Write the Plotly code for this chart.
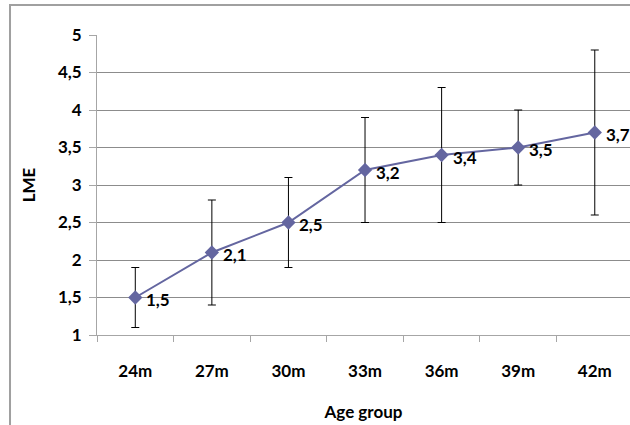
import plotly.graph_objects as go

categories = ["24m", "27m", "30m", "33m", "36m", "39m", "42m"]
values = [1.5, 2.1, 2.5, 3.2, 3.4, 3.5, 3.7]
errors = [0.4, 0.7, 0.6, 0.7, 0.9, 0.5, 1.1]
labels = ["1,5", "2,1", "2,5", "3,2", "3,4", "3,5", "3,7"]
ytickvals = [1, 1.5, 2, 2.5, 3, 3.5, 4, 4.5, 5]
yticktext = ["1", "1,5", "2", "2,5", "3", "3,5", "4", "4,5", "5"]

FONT = "Lato"
FS = 17
line_color = "#6466A0"
bold = dict(family=FONT, size=FS, color="black", weight=700)

fig = go.Figure()
fig.add_trace(go.Scatter(
    x=categories, y=values,
    mode="lines+markers",
    line=dict(color=line_color, width=2),
    marker=dict(symbol="diamond", size=11, color=line_color),
    error_y=dict(type="data", array=errors, visible=True, color="black",
                 thickness=1, width=4),
    cliponaxis=False,
    showlegend=False,
))

annotations = [
    dict(x=c, y=v, xref="x", yref="y", text=t, showarrow=False,
         xanchor="left", yanchor="middle", xshift=9, yshift=-2, font=bold)
    for c, v, t in zip(categories, values, labels)
]

fig.update_layout(
    width=630, height=425,
    margin=dict(l=97, r=0, t=35, b=90),
    paper_bgcolor="white", plot_bgcolor="white",
    font=dict(family=FONT, color="black"),
    xaxis=dict(
        type="category", range=[-0.5, 6.46],
        showgrid=False, showline=True, linecolor="#A6A6A6", linewidth=1,
        ticks="outside", tickson="boundaries", ticklen=6, tickcolor="#A6A6A6",
        tickfont=bold,
        ticklabelstandoff=21,
        title=dict(text="Age group", font=bold, standoff=25),
    ),
    yaxis=dict(
        range=[1, 5], tickvals=ytickvals, ticktext=yticktext,
        showgrid=True, gridcolor="#8C8C8C", gridwidth=1,
        showline=True, linecolor="#A6A6A6", linewidth=1,
        ticks="outside", ticklen=7, tickcolor="#A6A6A6",
        tickfont=bold,
        ticklabelstandoff=4,
        zeroline=False,
        title=dict(text="LME", font=bold, standoff=17),
    ),
    annotations=annotations,
    shapes=[dict(type="rect", xref="paper", yref="paper",
                 x0=-0.1632, x1=1.3, y0=-0.5, y1=1.1,
                 line=dict(color="#A0A0A0", width=2), layer="below")],
)

fig.write_html("out.html", config={"displayModeBar": False},
               post_script="document.body.style.margin='0';")
